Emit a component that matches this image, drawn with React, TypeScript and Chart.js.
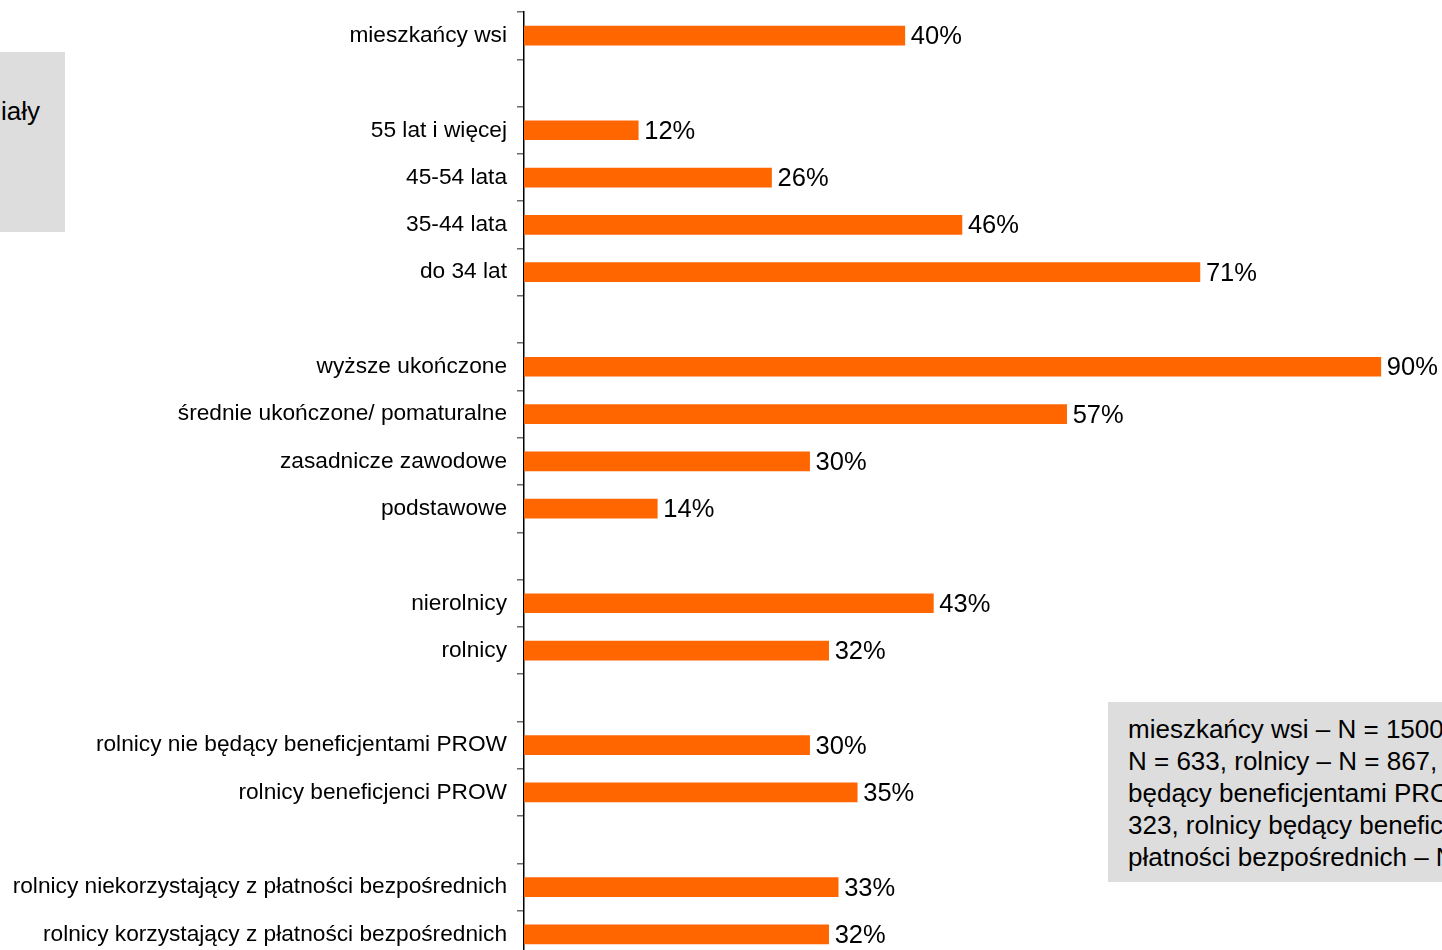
import React, { useEffect, useRef } from "react";
import { Chart, registerables } from "chart.js";

Chart.register(...registerables);

const categories: string[] = [
  "mieszkańcy wsi",
  "",
  "55 lat i więcej",
  "45-54 lata",
  "35-44 lata",
  "do 34 lat",
  "",
  "wyższe ukończone",
  "średnie ukończone/ pomaturalne",
  "zasadnicze zawodowe",
  "podstawowe",
  "",
  "nierolnicy",
  "rolnicy",
  "",
  "rolnicy nie będący beneficjentami PROW",
  "rolnicy beneficjenci PROW",
  "",
  "rolnicy niekorzystający z płatności bezpośrednich",
  "rolnicy korzystający z płatności bezpośrednich",
];

const values: (number | null)[] = [
  40, null, 12, 26, 46, 71, null, 90, 57, 30, 14, null, 43, 32, null, 30, 35, null, 33, 32,
];

const noteLines: string[] = [
  "mieszkańcy wsi – N = 1500,",
  "N = 633, rolnicy – N = 867,",
  "będący beneficjentami PROW – N = 544,",
  "323, rolnicy będący beneficjentami",
  "płatności bezpośrednich – N = 61",
];

const sideText = "iały";

const FONT = "'Liberation Sans', Arial, Helvetica, sans-serif";

const valueLabels = {
  id: "valueLabels",
  afterDatasetsDraw(chart: any) {
    const ctx = chart.ctx;
    const meta = chart.getDatasetMeta(0);
    ctx.save();
    ctx.font = `25.5px ${FONT}`;
    ctx.fillStyle = "#000";
    ctx.textAlign = "left";
    ctx.textBaseline = "middle";
    meta.data.forEach((bar: any, i: number) => {
      const v = values[i];
      if (v === null || v === undefined) return;
      ctx.fillText(`${v}%`, bar.x + 6, bar.y + 1.5);
    });
    ctx.restore();
  },
};

export default function App() {
  const canvasRef = useRef<HTMLCanvasElement>(null);

  useEffect(() => {
    document.body.style.margin = "0";
    const canvas = canvasRef.current;
    if (!canvas) return;
    const chart = new Chart(canvas, {
      type: "bar",
      data: {
        labels: categories,
        datasets: [
          {
            data: values as any,
            backgroundColor: "#FF6600",
            borderWidth: 0,
            barThickness: 19,
          },
        ],
      },
      options: {
        indexAxis: "y",
        animation: false,
        responsive: false,
        maintainAspectRatio: false,
        layout: { padding: { top: 12, bottom: 2, right: 4, left: 0 } },
        plugins: {
          legend: { display: false },
          tooltip: { enabled: false },
        },
        scales: {
          x: {
            display: false,
            min: 0,
            max: 100,
          },
          y: {
            type: "category",
            afterFit(scale: any) {
              scale.width = 524;
              scale.paddingTop = 0;
              scale.paddingBottom = 0;
            },
            grid: {
              drawOnChartArea: false,
              drawTicks: true,
              tickLength: 7,
              offset: true,
              color: "#6b6b6b",
              lineWidth: 1.5,
            },
            border: { display: true, color: "#000", width: 1.5 },
            ticks: {
              color: "#000",
              padding: 10,
              autoSkip: false,
              font: { family: FONT, size: 22.7 },
            },
          },
        },
      },
      plugins: [valueLabels],
    });
    return () => chart.destroy();
  }, []);

  return (
    <div
      style={{
        position: "relative",
        width: 1442,
        height: 950,
        overflow: "hidden",
        background: "#fff",
        fontFamily: FONT,
      }}
    >
      <canvas
        ref={canvasRef}
        width={1480}
        height={960}
        style={{ position: "absolute", left: 0, top: 0, width: 1480, height: 960 }}
      />
      <div
        style={{
          position: "absolute",
          left: 0,
          top: 52,
          width: 65,
          height: 180,
          background: "#DDDDDD",
          overflow: "hidden",
        }}
      >
        <div
          style={{
            position: "absolute",
            right: 25,
            top: 43,
            fontSize: 26,
            lineHeight: "32px",
            whiteSpace: "nowrap",
            color: "#000",
          }}
        >
          {sideText}
        </div>
      </div>
      <div
        style={{
          position: "absolute",
          left: 1108,
          top: 702,
          width: 400,
          height: 180,
          background: "#DDDDDD",
          boxSizing: "border-box",
          padding: "11px 0 0 20px",
          fontSize: 26,
          lineHeight: "32px",
          whiteSpace: "nowrap",
          color: "#000",
        }}
      >
        {noteLines.map((l, i) => (
          <div key={i}>{l}</div>
        ))}
      </div>
    </div>
  );
}
